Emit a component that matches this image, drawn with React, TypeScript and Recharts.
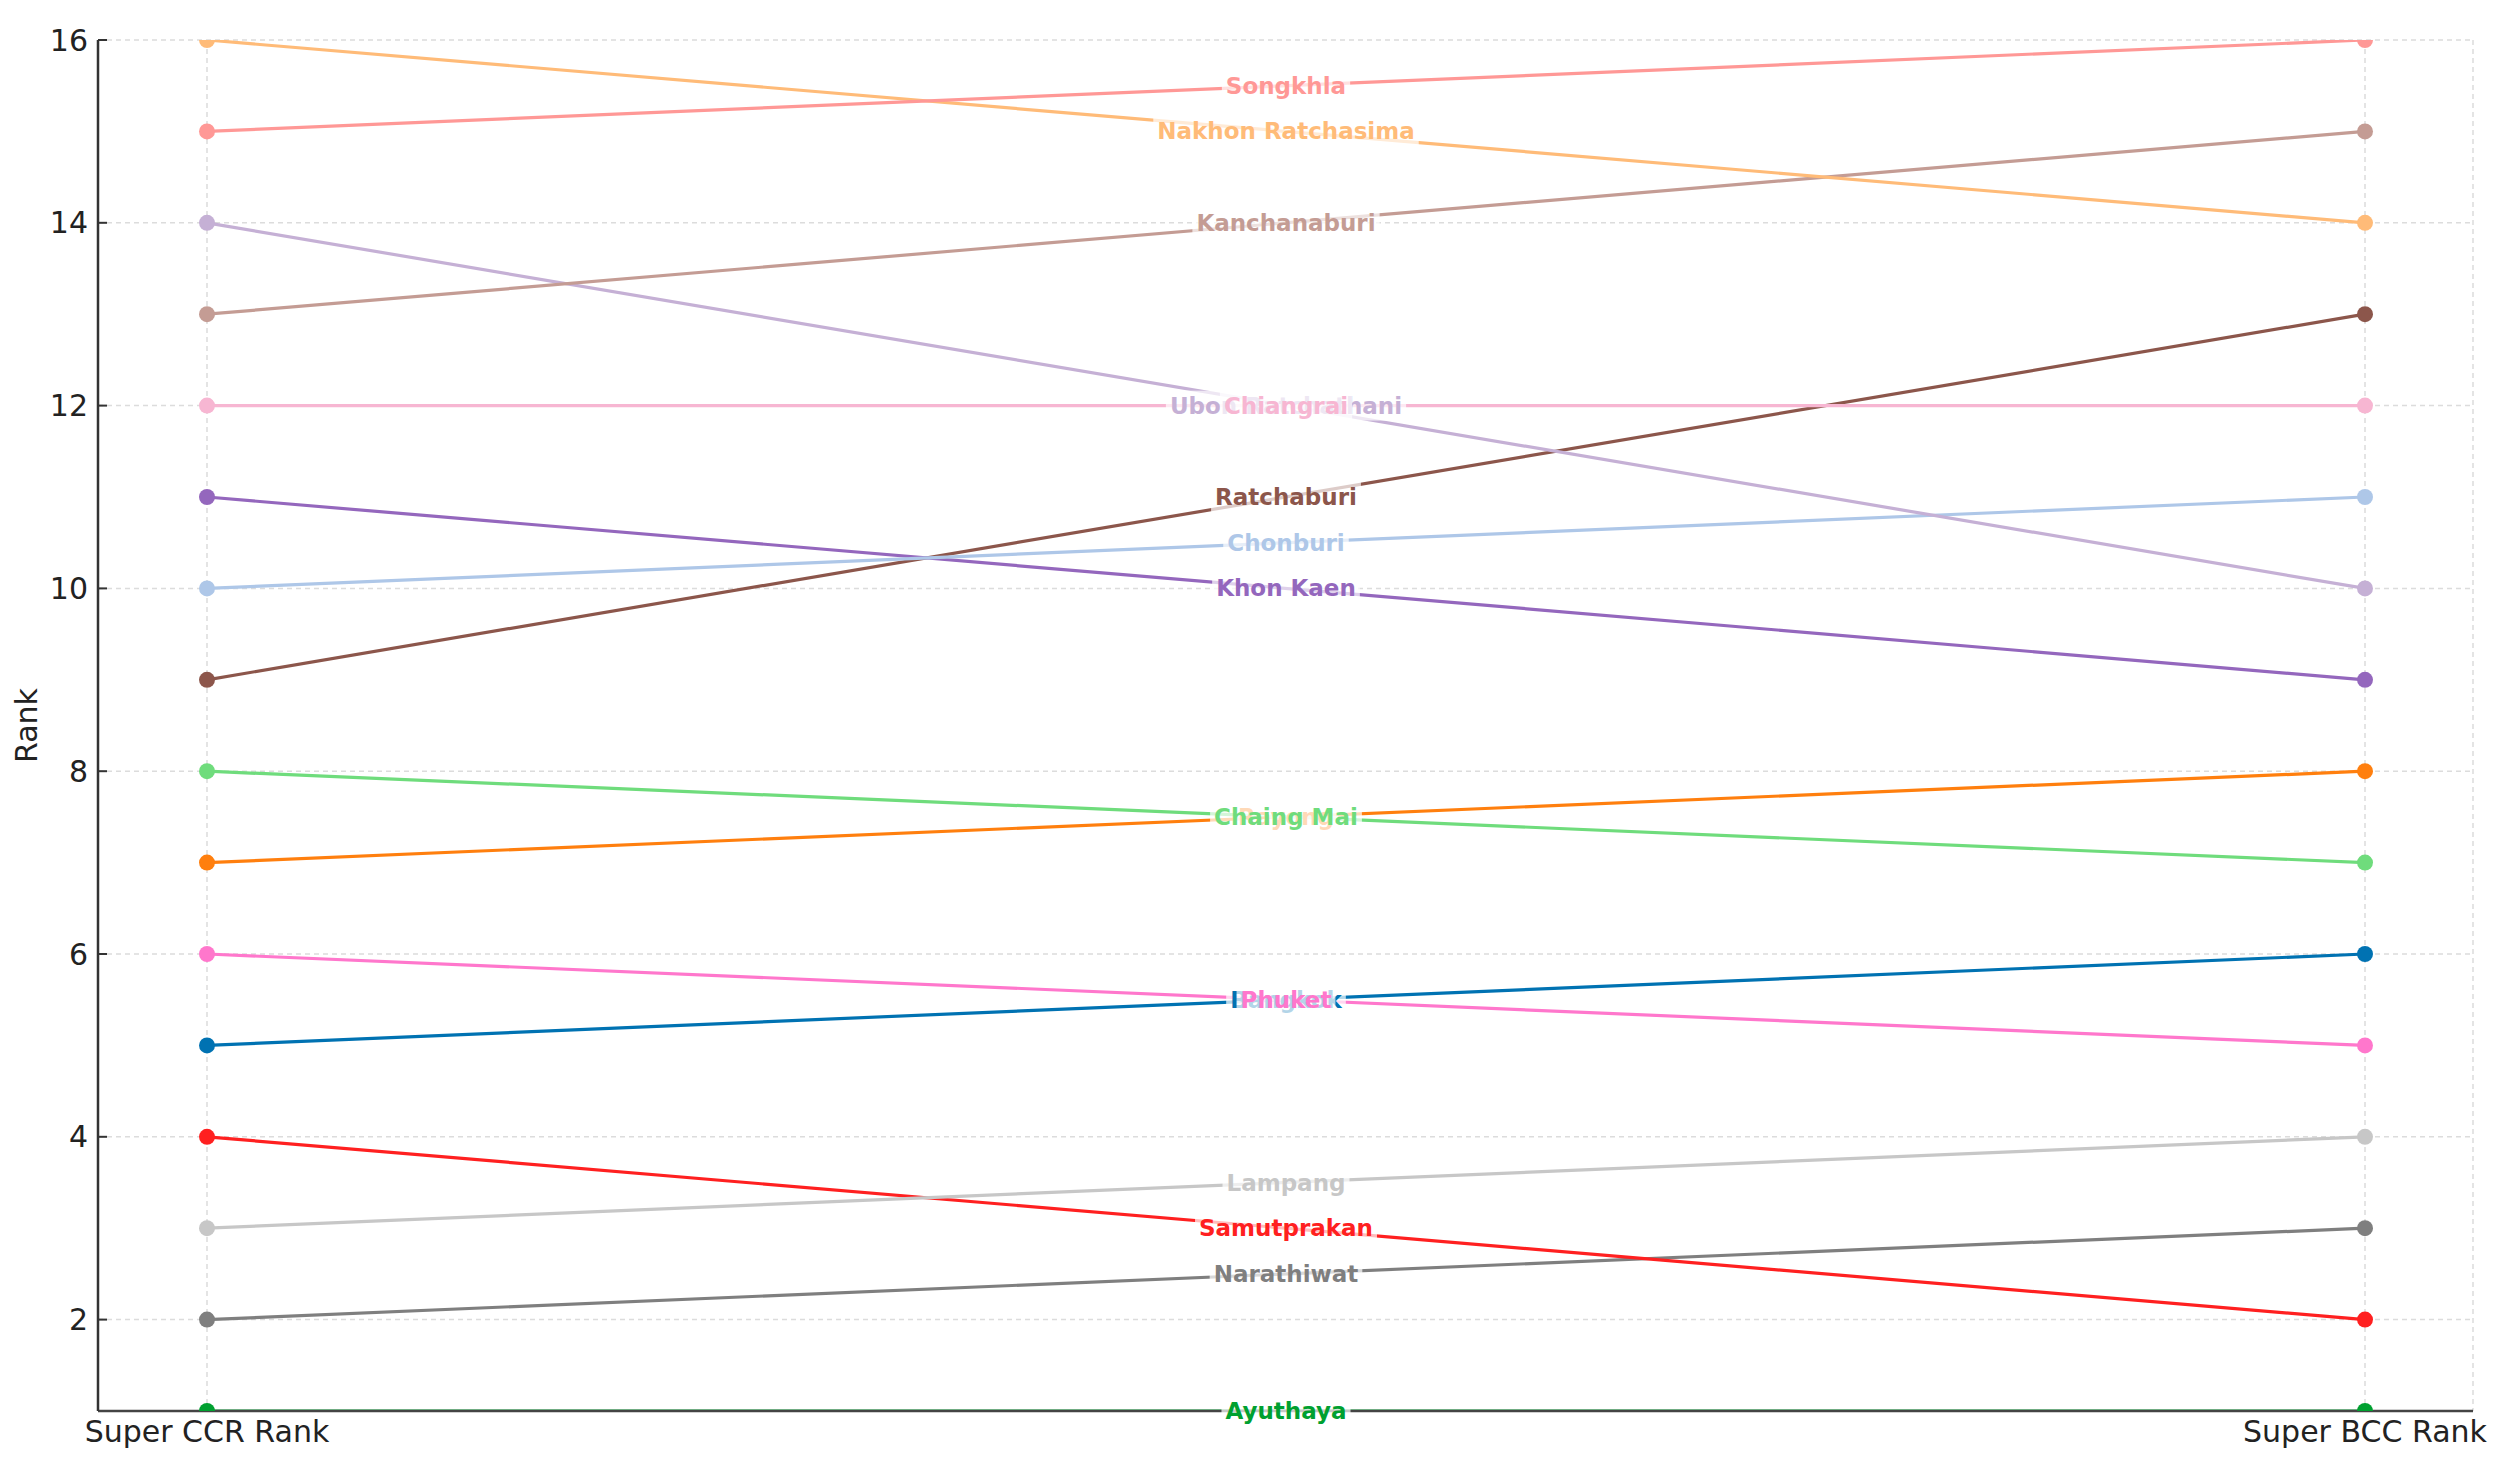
import React from 'react';
import { LineChart, Line, XAxis, YAxis, CartesianGrid, ReferenceDot } from 'recharts';

// ─── data ─────────────────────────────────────────────────────────────────────
// draw order matters: later labels sit on top of earlier ones
const provinces = [
  'Ayuthaya', 'Narathiwat', 'Samutprakan', 'Lampang', 'Bangkok', 'Phuket',
  'Rayong', 'Chaing Mai', 'Ratchaburi', 'Khon Kaen', 'Chonburi',
  'Ubon Ratchathani', 'Chiangrai', 'Kanchanaburi', 'Nakhon Ratchasima', 'Songkhla',
];
const ccrRank = [1, 2, 4, 3, 5, 6, 7, 8, 9, 11, 10, 14, 12, 13, 16, 15];
const bccRank = [1, 3, 2, 4, 6, 5, 8, 7, 13, 9, 11, 10, 12, 15, 14, 16];
const lineColors = [
  '#00a030', '#7f7f7f', '#ff2020', '#c7c7c7', '#0072b2', '#ff77cc',
  '#ff7f0e', '#6fdc7c', '#8c564b', '#9467bd', '#aec7e8',
  '#c5b0d5', '#f7b6d2', '#c49c94', '#ffbb78', '#ff9896',
];

const xPositions = [0, 1];
const xLabels = ['Super CCR Rank', 'Super BCC Rank'];
const yTicks = [2, 4, 6, 8, 10, 12, 14, 16];

const rows = xPositions.map((x, i) => {
  const row: Record<string, number> = { x };
  provinces.forEach((p, j) => {
    row[p] = i === 0 ? ccrRank[j] : bccRank[j];
  });
  return row;
});

// ─── helpers ──────────────────────────────────────────────────────────────────
const FONT = '"DejaVu Sans", sans-serif';
const LABEL_SIZE = 23;
const TICK_SIZE = 30;

let ctx: CanvasRenderingContext2D | null = null;
function textWidth(s: string) {
  if (!ctx) ctx = document.createElement('canvas').getContext('2d');
  if (!ctx) return s.length * LABEL_SIZE * 0.65;
  ctx.font = `bold ${LABEL_SIZE}px ${FONT}`;
  return ctx.measureText(s).width;
}

// province name in the middle of its line, on a half-clear white box
const MidLabel = (name: string, color: string) => (props: any) => {
  const { cx, cy } = props;
  const w = textWidth(name) + 8;
  const h = LABEL_SIZE * 1.3;
  return (
    <g>
      <rect x={cx - w / 2} y={cy - h / 2} width={w} height={h} fill="#fff" fillOpacity={0.7} />
      <text x={cx} y={cy} textAnchor="middle" dominantBaseline="central"
        fontSize={LABEL_SIZE} fontWeight="bold" fontFamily={FONT} fill={color}>
        {name}
      </text>
    </g>
  );
};

// y ticks point into the plot, like the original
const YTick = (props: any) => {
  const { x, y, payload } = props;
  return (
    <g>
      <line x1={x + 10} x2={x + 19} y1={y} y2={y} stroke="#333" strokeWidth={2} />
      <text x={x} y={y} textAnchor="end" dominantBaseline="central"
        fontSize={TICK_SIZE} fontFamily={FONT} fill="#222">
        {payload.value}
      </text>
    </g>
  );
};

const RankLabel = (props: any) => {
  const { viewBox } = props;
  const cy = viewBox.y + viewBox.height / 2;
  return (
    <text x={18} y={cy} transform={`rotate(-90, 18, ${cy})`} textAnchor="middle"
      dominantBaseline="central" fontSize={TICK_SIZE} fontFamily={FONT} fill="#222">
      Rank
    </text>
  );
};

export default function App() {
  return (
    <LineChart width={2504} height={1460} data={rows}
      margin={{ top: 32, right: 39, bottom: 7, left: 0 }}
      style={{ fontFamily: FONT }}>
      <CartesianGrid stroke="#dcdcdc" strokeDasharray="5 4" strokeWidth={1.5} />
      <XAxis dataKey="x" type="number" domain={[0, 1]} ticks={xPositions}
        tickFormatter={(v: number) => xLabels[xPositions.indexOf(v)]}
        padding={{ left: 109, right: 108 }} height={50}
        tickLine={false} tickSize={0} tickMargin={10}
        axisLine={{ stroke: '#444', strokeWidth: 2.5 }}
        tick={{ fontSize: TICK_SIZE, fill: '#222', fontFamily: FONT }} />
      <YAxis type="number" domain={[1, 16]} ticks={yTicks} allowDataOverflow
        width={90} tickLine={false} tickSize={0} tickMargin={10}
        axisLine={{ stroke: '#333', strokeWidth: 2.5 }}
        tick={<YTick />} label={<RankLabel />} />
      {provinces.map((p, j) => (
        <Line key={p} dataKey={p} type="linear" stroke={lineColors[j]} strokeWidth={3.2}
          dot={{ r: 8, fill: lineColors[j], stroke: lineColors[j], strokeWidth: 0 }}
          activeDot={false} isAnimationActive={false} />
      ))}
      {provinces.map((p, j) => (
        <ReferenceDot key={'lbl-' + p} x={0.5} y={(ccrRank[j] + bccRank[j]) / 2}
          r={0} shape={MidLabel(p, lineColors[j])} />
      ))}
    </LineChart>
  );
}
